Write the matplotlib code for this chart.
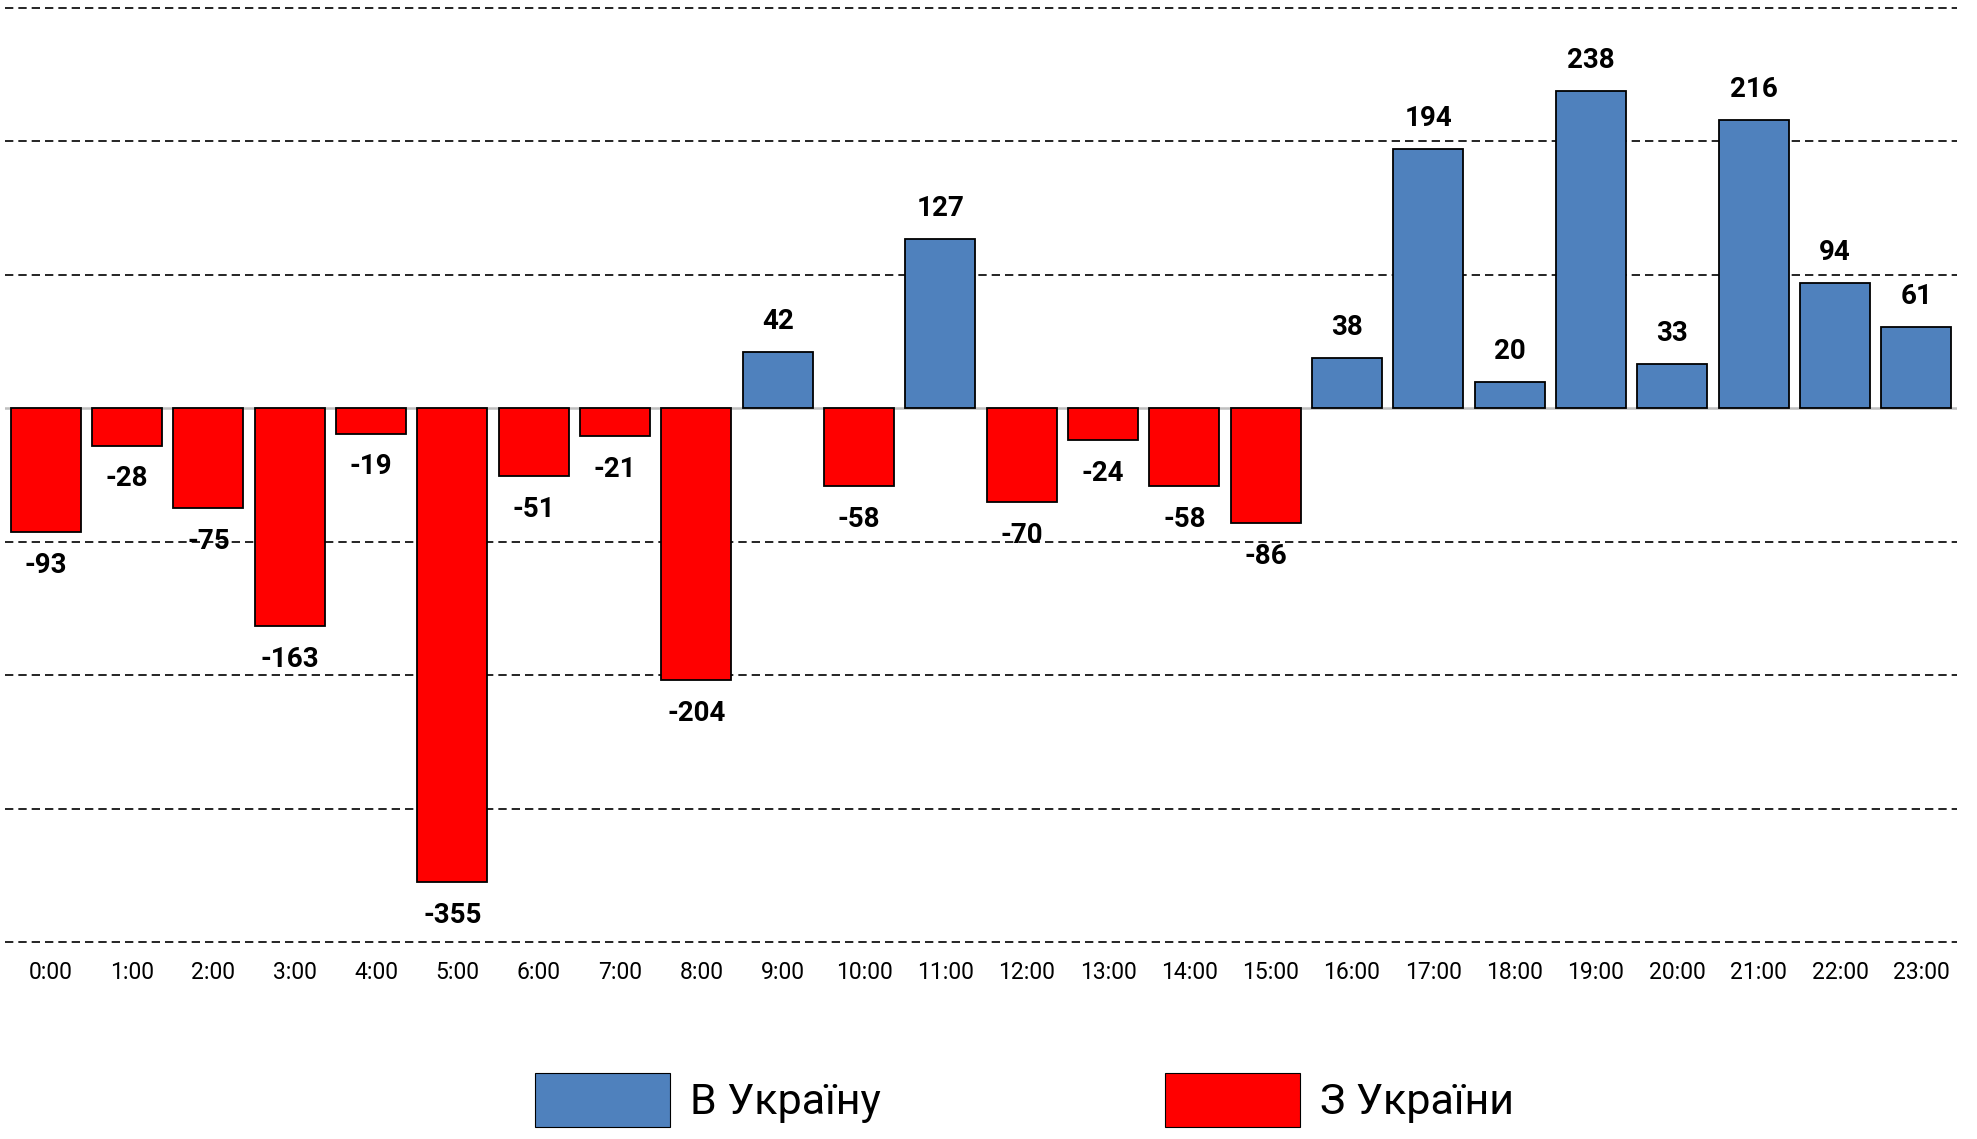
import matplotlib.pyplot as plt
from matplotlib.patches import Patch
from matplotlib.transforms import ScaledTranslation

# дані: баланс перетинів кордону по годинах
hours = [f'{h}:00' for h in range(24)]
values = [-93, -28, -75, -163, -19, -355, -51, -21, -204, 42, -58, 127,
          -70, -24, -58, -86, 38, 194, 20, 238, 33, 216, 94, 61]
grid_levels = [300, 200, 100, -100, -200, -300, -400]
legend_labels = ['В Україну', 'З України']

blue = '#4F81BD'
red = '#FF0000'

plt.rcParams['font.family'] = ['Roboto', 'DejaVu Sans']

fig = plt.figure(figsize=(19.77, 11.39), dpi=100)
ax = fig.add_axes([5 / 1977, 197 / 1139, 1952 / 1977, 934 / 1139])

colors = [blue if v > 0 else red for v in values]
x = list(range(len(values)))
ax.bar(x, values, width=0.86, color=colors, edgecolor='black', linewidth=1.3, zorder=3)

for lvl in grid_levels:
    ax.axhline(lvl, color='black', linestyle=(0, (5, 3)), linewidth=1.2, zorder=1, clip_on=False)
ax.axhline(0, color='#BFBFBF', linewidth=1.8, zorder=2)

for xi, v in zip(x, values):
    off = 22 if v > 0 else -24
    ax.annotate(str(v), (xi, v), xytext=(0, off), textcoords='offset points',
                ha='center', va='center', fontsize=20, fontweight='bold', zorder=4)

ax.set_xlim(-0.5, 23.5)
ax.set_ylim(-400, 300)
ax.set_xticks(x)
ax.set_xticklabels(hours, fontsize=16.5)
ax.set_yticks([])
ax.tick_params(axis='x', length=0, pad=14)
shift = ScaledTranslation(0.05, 0, fig.dpi_scale_trans)
for lab in ax.get_xticklabels():
    lab.set_transform(lab.get_transform() + shift)
for s in ax.spines.values():
    s.set_visible(False)

handles = [Patch(facecolor=blue, edgecolor='black', linewidth=0.8),
           Patch(facecolor=red, edgecolor='black', linewidth=0.8)]
fig.legend(handles, legend_labels, loc='center', bbox_to_anchor=(0.518, 0.034),
           ncol=2, frameon=False, fontsize=31,
           handlelength=3.15, handleheight=1.55,
           handletextpad=0.45, columnspacing=6.6, borderpad=0)

fig.savefig('out.png', dpi=100)
